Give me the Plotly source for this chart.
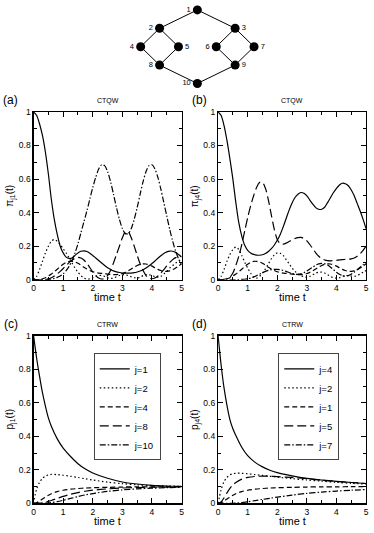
import plotly.graph_objects as go

# graph: node -> (column, row) in the drawing, and the bonds
node_ids = [1, 2, 3, 4, 5, 6, 7, 8, 9, 10]
node_col = [0, -1, 1, -1.5, -0.5, 0.5, 1.5, -1, 1, 0]
node_row = [0, 1, 1, 2, 2, 2, 2, 3, 3, 4]
label_side = ['left', 'left', 'right', 'left', 'right', 'left', 'right', 'left', 'right', 'left']
bonds = [(1, 2), (1, 3), (2, 4), (2, 5), (4, 8), (5, 8), (3, 6), (3, 7), (6, 9), (7, 9), (8, 10), (9, 10)]

# CTQW time grid
t_qw = [0.0, 0.1, 0.2, 0.3, 0.4, 0.5, 0.6, 0.7, 0.8, 0.9, 1.0, 1.1, 1.2, 1.3, 1.4, 1.5, 1.6, 1.7, 1.8, 1.9,
        2.0, 2.1, 2.2, 2.3, 2.4, 2.5, 2.6, 2.7, 2.8, 2.9, 3.0, 3.1, 3.2, 3.3, 3.4, 3.5, 3.6, 3.7, 3.8, 3.9,
        4.0, 4.1, 4.2, 4.3, 4.4, 4.5, 4.6, 4.7, 4.8, 4.9, 5.0]

# (a) pi_j1(t)
qw_a_1 = [1.0, 0.98, 0.93, 0.86, 0.76, 0.63, 0.48, 0.36, 0.27, 0.2, 0.16, 0.135, 0.127, 0.13, 0.145, 0.16, 0.17,
          0.172, 0.168, 0.158, 0.145, 0.13, 0.115, 0.1, 0.085, 0.072, 0.062, 0.053, 0.047, 0.043, 0.04, 0.039,
          0.039, 0.04, 0.042, 0.046, 0.052, 0.06, 0.07, 0.083, 0.097, 0.112, 0.128, 0.143, 0.156, 0.166, 0.171,
          0.17, 0.163, 0.15, 0.135]
qw_a_2 = [0, 0.02, 0.06, 0.11, 0.16, 0.2, 0.23, 0.24, 0.23, 0.21, 0.185, 0.16, 0.13, 0.1, 0.07, 0.045, 0.025, 0.01,
          0.003, 0.005, 0.012, 0.02, 0.025, 0.025, 0.02, 0.012, 0.008, 0.01, 0.018, 0.025, 0.03, 0.03, 0.025,
          0.018, 0.012, 0.01, 0.015, 0.025, 0.03, 0.03, 0.025, 0.018, 0.015, 0.02, 0.035, 0.05, 0.07, 0.085, 0.1,
          0.11, 0.115]
qw_a_4 = [0, 0, 0.002, 0.006, 0.012, 0.022, 0.034, 0.048, 0.063, 0.078, 0.092, 0.103, 0.109, 0.11, 0.106, 0.098,
          0.087, 0.075, 0.064, 0.055, 0.048, 0.043, 0.04, 0.038, 0.036, 0.034, 0.032, 0.031, 0.031, 0.033, 0.037,
          0.044, 0.053, 0.064, 0.075, 0.085, 0.092, 0.095, 0.094, 0.089, 0.081, 0.071, 0.062, 0.055, 0.051, 0.05,
          0.053, 0.06, 0.07, 0.082, 0.095]
qw_a_8 = [0, 0, 0, 0.001, 0.002, 0.005, 0.012, 0.022, 0.035, 0.05, 0.067, 0.085, 0.102, 0.117, 0.128, 0.133, 0.13,
          0.118, 0.098, 0.073, 0.047, 0.025, 0.01, 0.004, 0.008, 0.025, 0.055, 0.1, 0.15, 0.2, 0.25, 0.285, 0.285,
          0.25, 0.2, 0.145, 0.095, 0.055, 0.025, 0.01, 0.006, 0.01, 0.022, 0.04, 0.06, 0.082, 0.103, 0.12, 0.132,
          0.138, 0.14]
qw_a_10 = [0, 0, 0, 0, 0.001, 0.002, 0.004, 0.008, 0.014, 0.022, 0.035, 0.055, 0.08, 0.115, 0.16, 0.215, 0.28,
           0.345, 0.41, 0.48, 0.55, 0.61, 0.66, 0.685, 0.68, 0.645, 0.585, 0.51, 0.43, 0.36, 0.305, 0.275, 0.275,
           0.305, 0.36, 0.43, 0.51, 0.585, 0.645, 0.68, 0.685, 0.66, 0.61, 0.54, 0.46, 0.38, 0.3, 0.23, 0.17,
           0.125, 0.09]

# (b) pi_j4(t)
qw_b_4 = [1.0, 0.98, 0.92, 0.83, 0.72, 0.6, 0.46, 0.34, 0.26, 0.205, 0.175, 0.16, 0.151, 0.147, 0.146, 0.149,
          0.156, 0.168, 0.185, 0.207, 0.235, 0.27, 0.315, 0.365, 0.415, 0.458, 0.49, 0.51, 0.52, 0.515, 0.5,
          0.475, 0.45, 0.43, 0.42, 0.42, 0.432, 0.46, 0.49, 0.52, 0.545, 0.565, 0.575, 0.572, 0.56, 0.535, 0.5,
          0.455, 0.41, 0.36, 0.305]
qw_b_2 = [0, 0.02, 0.06, 0.11, 0.15, 0.18, 0.195, 0.18, 0.145, 0.105, 0.07, 0.04, 0.015, 0.01, 0.02, 0.04, 0.065,
          0.095, 0.125, 0.148, 0.16, 0.158, 0.145, 0.12, 0.095, 0.07, 0.05, 0.035, 0.025, 0.018, 0.015, 0.02, 0.03,
          0.04, 0.045, 0.045, 0.04, 0.03, 0.02, 0.012, 0.01, 0.012, 0.02, 0.025, 0.025, 0.022, 0.02, 0.025, 0.035,
          0.045, 0.055]
qw_b_1 = [0, 0, 0.002, 0.006, 0.012, 0.022, 0.034, 0.048, 0.063, 0.078, 0.092, 0.103, 0.109, 0.11, 0.106, 0.098,
          0.087, 0.075, 0.064, 0.055, 0.048, 0.043, 0.04, 0.038, 0.036, 0.034, 0.032, 0.031, 0.031, 0.033, 0.037,
          0.044, 0.053, 0.064, 0.075, 0.085, 0.092, 0.095, 0.094, 0.089, 0.081, 0.071, 0.062, 0.055, 0.051, 0.05,
          0.053, 0.06, 0.07, 0.082, 0.095]
qw_b_5 = [0, 0, 0.002, 0.006, 0.015, 0.04, 0.085, 0.14, 0.21, 0.29, 0.37, 0.44, 0.5, 0.55, 0.58, 0.58, 0.545,
          0.475, 0.385, 0.3, 0.24, 0.215, 0.212, 0.218, 0.228, 0.238, 0.246, 0.251, 0.252, 0.246, 0.232, 0.21,
          0.185, 0.16, 0.14, 0.126, 0.118, 0.114, 0.113, 0.114, 0.116, 0.118, 0.12, 0.121, 0.122, 0.124, 0.13,
          0.14, 0.155, 0.175, 0.2]
qw_b_7 = [0, 0, 0, 0, 0, 0, 0, 0.001, 0.002, 0.003, 0.006, 0.01, 0.016, 0.024, 0.033, 0.042, 0.05, 0.056, 0.06,
          0.062, 0.062, 0.06, 0.056, 0.05, 0.043, 0.037, 0.033, 0.032, 0.035, 0.042, 0.052, 0.064, 0.076, 0.087,
          0.095, 0.098, 0.096, 0.088, 0.075, 0.06, 0.045, 0.033, 0.025, 0.022, 0.025, 0.033, 0.045, 0.06, 0.075,
          0.09, 0.1]

# CTRW time grid
t_rw = [0, 0.1, 0.2, 0.3, 0.4, 0.5, 0.6, 0.8, 1.0, 1.25, 1.5, 1.75, 2.0, 2.5, 3.0, 3.5, 4.0, 4.5, 5.0]

# (c) p_j1(t)
rw_c_1 = [1.0, 0.87, 0.76, 0.66, 0.58, 0.51, 0.46, 0.385, 0.33, 0.28, 0.237, 0.205, 0.182, 0.15, 0.128, 0.116,
          0.108, 0.104, 0.102]
rw_c_2 = [0, 0.085, 0.125, 0.15, 0.163, 0.17, 0.173, 0.172, 0.168, 0.162, 0.155, 0.147, 0.14, 0.127, 0.118, 0.111,
          0.107, 0.104, 0.102]
rw_c_4 = [0, 0.004, 0.014, 0.026, 0.038, 0.049, 0.058, 0.071, 0.079, 0.085, 0.089, 0.092, 0.094, 0.096, 0.098,
          0.099, 0.099, 0.1, 0.1]
rw_c_8 = [0, 0, 0.0015, 0.004, 0.008, 0.013, 0.018, 0.03, 0.042, 0.055, 0.065, 0.073, 0.079, 0.087, 0.092, 0.095,
          0.097, 0.098, 0.099]
rw_c_10 = [0, 0, 0, 0.0005, 0.0015, 0.003, 0.005, 0.011, 0.019, 0.03, 0.041, 0.051, 0.059, 0.072, 0.081, 0.087,
           0.091, 0.094, 0.096]

# (d) p_j4(t)
rw_d_4 = [1.0, 0.83, 0.69, 0.585, 0.5, 0.445, 0.405, 0.335, 0.285, 0.245, 0.218, 0.198, 0.184, 0.165, 0.15, 0.14,
          0.132, 0.125, 0.119]
rw_d_2 = [0, 0.08, 0.13, 0.155, 0.17, 0.177, 0.18, 0.18, 0.177, 0.172, 0.167, 0.162, 0.157, 0.148, 0.14, 0.133,
          0.126, 0.12, 0.115]
rw_d_1 = [0, 0.004, 0.014, 0.026, 0.038, 0.049, 0.058, 0.071, 0.079, 0.085, 0.089, 0.092, 0.094, 0.096, 0.098,
          0.099, 0.099, 0.1, 0.1]
rw_d_5 = [0, 0.009, 0.033, 0.063, 0.09, 0.11, 0.125, 0.145, 0.155, 0.161, 0.163, 0.162, 0.16, 0.155, 0.148, 0.139,
          0.131, 0.125, 0.119]
rw_d_7 = [0, 0, 0, 0, 0, 0.001, 0.002, 0.005, 0.01, 0.017, 0.024, 0.031, 0.038, 0.05, 0.06, 0.068, 0.074, 0.079,
          0.083]

W, H = 374, 533
FONT = 'Liberation Sans, Arial, sans-serif'

# line styles, in legend order
styles = ['solid', '1.5px,2.5px', '5px,3px', '9px,4px', '6px,2px,1.5px,2px']


def px_x(p):
    return p / W


def px_y(p):
    return 1 - p / H


fig = go.Figure()

panels = [
    ('', t_qw, [qw_a_1, qw_a_2, qw_a_4, qw_a_8, qw_a_10], [1, 2, 4, 8, 10], None),
    ('2', t_qw, [qw_b_4, qw_b_2, qw_b_1, qw_b_5, qw_b_7], [4, 2, 1, 5, 7], None),
    ('3', t_rw, [rw_c_1, rw_c_2, rw_c_4, rw_c_8, rw_c_10], [1, 2, 4, 8, 10], 'legend'),
    ('4', t_rw, [rw_d_4, rw_d_2, rw_d_1, rw_d_5, rw_d_7], [4, 2, 1, 5, 7], 'legend2'),
]

for ax, t, series, js, leg in panels:
    for y, j, dash in zip(series, js, styles):
        fig.add_trace(go.Scatter(
            x=t, y=y, mode='lines', name=f'j={j}',
            line=dict(color='black', width=1.2, dash=dash, shape='spline', smoothing=0.8),
            xaxis='x' + ax, yaxis='y' + ax,
            showlegend=leg is not None, legend=leg or 'legend',
        ))

# network drawing
pos = {n: (c, r) for n, c, r in zip(node_ids, node_col, node_row)}
ex, ey = [], []
for a, b in bonds:
    ex += [pos[a][0], pos[b][0], None]
    ey += [pos[a][1], pos[b][1], None]
fig.add_trace(go.Scatter(x=ex, y=ey, mode='lines', line=dict(color='black', width=1),
                         xaxis='x5', yaxis='y5', showlegend=False, hoverinfo='skip'))
for side in ['left', 'right']:
    sel = [i for i, s in enumerate(label_side) if s == side]
    fig.add_trace(go.Scatter(
        x=[node_col[i] for i in sel], y=[node_row[i] for i in sel],
        mode='markers+text', text=[str(node_ids[i]) for i in sel],
        textposition='middle ' + side, textfont=dict(size=7.5, color='black', family=FONT),
        marker=dict(size=9, color='black'),
        xaxis='x5', yaxis='y5', showlegend=False))

xl, xr = [32, 219], [182, 369]
yt, yb = [109, 337], [280, 508]

axis_common = dict(
    ticks='inside', ticklen=5, tickwidth=1, tickcolor='black',
    showline=True, linecolor='black', linewidth=1.2, mirror='ticks',
    showgrid=False, zeroline=False,
    tickfont=dict(size=8.5, family=FONT, color='black'),
)

layout = dict(
    width=W, height=H,
    margin=dict(l=0, r=0, t=0, b=0),
    paper_bgcolor='white', plot_bgcolor='white',
    font=dict(family=FONT, color='black'),
    hovermode=False,
)

for k, ax in enumerate(['', '2', '3', '4']):
    col, row = k % 2, k // 2
    layout['xaxis' + ax] = dict(
        axis_common, domain=[px_x(xl[col]), px_x(xr[col])], anchor='y' + ax,
        range=[0, 5], tick0=0, dtick=1,
        minor=dict(dtick=0.5, ticks='inside', ticklen=3, tickcolor='black'),
    )
    layout['yaxis' + ax] = dict(
        axis_common, domain=[px_y(yb[row]), px_y(yt[row])], anchor='x' + ax,
        range=[0, 1], tick0=0, dtick=0.2,
        minor=dict(dtick=0.1, ticks='inside', ticklen=3, tickcolor='black'),
    )

# network area: columns ~38 px apart centred at x=198, rows ~18.75 px apart from y=5
layout['xaxis5'] = dict(domain=[0, 1], range=[-198 / 38.3, (W - 198) / 38.3], visible=False, anchor='y5')
layout['yaxis5'] = dict(domain=[px_y(88), 1], range=[(88 - 5) / 18.75, -5 / 18.75], visible=False, anchor='x5')

legend_common = dict(
    bgcolor='white', bordercolor='#444', borderwidth=1,
    font=dict(size=9.5, family=FONT, color='black'),
    xanchor='left', yanchor='top', itemwidth=30, tracegroupgap=0,
)
layout['legend'] = dict(legend_common, x=px_x(93), y=px_y(355))
layout['legend2'] = dict(legend_common, x=px_x(280), y=px_y(355))

fig.update_layout(**layout)

ann = []
for k, (lab, tag, ytit) in enumerate([('(a)', 'CTQW', 'π<sub>j1</sub>(t)'), ('(b)', 'CTQW', 'π<sub>j4</sub>(t)'),
                                      ('(c)', 'CTRW', 'p<sub>j1</sub>(t)'), ('(d)', 'CTRW', 'p<sub>j4</sub>(t)')]):
    col, row = k % 2, k // 2
    cx = (xl[col] + xr[col]) / 2
    top = yt[row]
    ann.append(dict(text=lab, x=px_x([9, 200][col]), y=px_y(top - 12), font=dict(size=12)))
    ann.append(dict(text=tag, x=px_x(cx), y=px_y(top - 11), font=dict(size=7)))
    ann.append(dict(text='time t', x=px_x(cx), y=px_y(yb[row] + 18), font=dict(size=11)))
    ann.append(dict(text=ytit, x=px_x([9, 196][col]), y=px_y((yt[row] + yb[row]) / 2),
                    textangle=-90, font=dict(size=10)))
for a in ann:
    a.update(xref='paper', yref='paper', showarrow=False, xanchor='center', yanchor='middle')
    a['font'].update(family=FONT, color='black')
fig.update_layout(annotations=ann)

# the page's default body margin would push the figure out of the window
fig.write_html("out.html", config={'displayModeBar': False, 'staticPlot': True},
               post_script="document.body.style.margin = '0';")
